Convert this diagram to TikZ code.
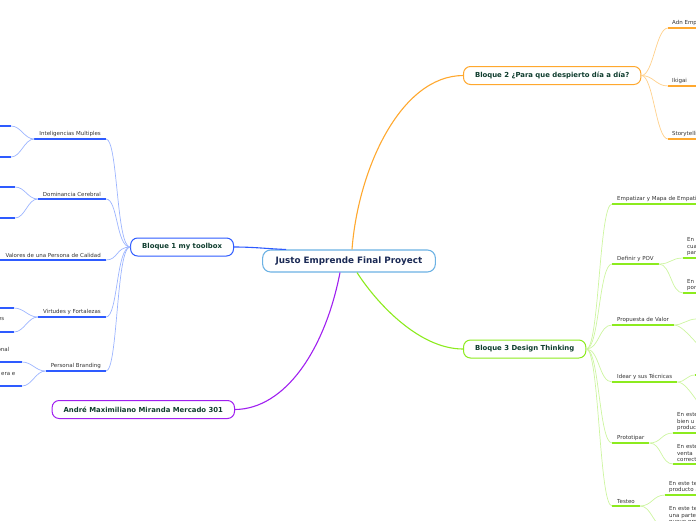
\documentclass[tikz,border=0pt]{standalone}
\usepackage{fontspec}
\setmainfont{DejaVu Sans}
\usetikzlibrary{calc}

\definecolor{ctrline}{HTML}{6CB2E4}
\definecolor{ctrtext}{HTML}{1B2A55}
\definecolor{bloquetext}{HTML}{0F3D2E}
\definecolor{toptext}{HTML}{333333}
\definecolor{blueA}{HTML}{2E5BFF}
\definecolor{blueB}{HTML}{9DB5FF}
\definecolor{orangeA}{HTML}{FFA82E}
\definecolor{orangeB}{HTML}{FFD08A}
\definecolor{greenA}{HTML}{8CEB1E}
\definecolor{greenB}{HTML}{CDF5A0}
\definecolor{purpA}{HTML}{A020F0}

\begin{document}
\begin{tikzpicture}[x=1pt, y=-1pt,
  ctrbox/.style={draw=ctrline, line width=1.1pt, rounded corners=8pt, fill=white, text=ctrtext, font=\fontsize{8.8}{10}\selectfont\bfseries, minimum height=22pt, inner xsep=13pt},
  bloque/.style={draw=#1, line width=1pt, rounded corners=7pt, fill=white, text=bloquetext, font=\fontsize{6.9}{8}\selectfont\bfseries, minimum height=18pt, inner xsep=11.5pt},
  topic/.style={text=toptext, font=\fontsize{5.5}{6.5}\selectfont, inner xsep=5pt, inner ysep=2pt},
  leaf/.style={topic, align=left, text width=40pt, inner xsep=4pt},
  trunk/.style={draw=#1, line width=1.1pt},
  twig/.style={draw=#1, line width=0.7pt},
  uline/.style={draw=#1, line width=1.8pt}
]
\useasboundingbox (0,0) rectangle (696,520);
\clip (0,0) rectangle (696,520);

% centre and the four blocks
\node[ctrbox] (ctr) at (349,261) {Justo Emprende Final Proyect};
\node[bloque=blueA, anchor=east] (b1) at (234,247) {Bloque 1 my toolbox};
\node[bloque=orangeA, anchor=west] (b2) at (463,75.5) {Bloque 2 ¿Para que despierto día a día?};
\node[bloque=greenA, anchor=west] (b3) at (463,349) {Bloque 3 Design Thinking};
\node[bloque=purpA, anchor=east] (am) at (235,409.5) {André Maximiliano Miranda Mercado 301};

\draw[trunk=blueA] (b1.east) .. controls (255,247) and (270,249) .. ($(ctr.north west)+(24,0)$);
\draw[trunk=orangeA] ($(ctr.north)+(3,0)$) .. controls (358,170) and (400,76) .. (b2.west);
\draw[trunk=greenA] ($(ctr.south)+(8,0)$) .. controls (378,305) and (420,349) .. (b3.west);
\draw[trunk=purpA] ($(ctr.south)+(-9,0)$) .. controls (325,350) and (285,409) .. (am.east);

% Bloque 1
\node[topic, anchor=south east] (im) at (106,139) {Inteligencias Multiples};
\node[topic, anchor=south east] (dc) at (106,199) {Dominancia Cerebral};
\node[topic, anchor=south east] (vp) at (106,260) {Valores de una Persona de Calidad};
\node[topic, anchor=south east] (vf) at (106,317) {Virtudes y Fortalezas};
\node[topic, anchor=south east] (pb) at (106,371) {Personal Branding};
\draw[uline=blueA] (im.south west) -- (im.south east);
\draw[uline=blueA] (dc.south west) -- (dc.south east);
\draw[uline=blueA] (vp.south west) -- (vp.south east);
\draw[uline=blueA] (vf.south west) -- (vf.south east);
\draw[uline=blueA] (pb.south west) -- (pb.south east);
\draw[twig=blueB] (b1.west) .. controls +(-14,0) and +(12,0) .. (im.south east);
\draw[twig=blueB] (b1.west) .. controls +(-14,0) and +(12,0) .. (dc.south east);
\draw[twig=blueB] (b1.west) .. controls +(-14,0) and +(12,0) .. (vp.south east);
\draw[twig=blueB] (b1.west) .. controls +(-14,0) and +(12,0) .. (vf.south east);
\draw[twig=blueB] (b1.west) .. controls +(-14,0) and +(12,0) .. (pb.south east);

\coordinate (im1) at (11,126);
\coordinate (im2) at (11,157);
\coordinate (dc1) at (15,187);
\coordinate (dc2) at (15,218);
\coordinate (vf1) at (14,308);
\coordinate (vf2) at (14,332);
\coordinate (pb1) at (22,362);
\coordinate (pb2) at (22,386);
\node[topic, anchor=base east, inner xsep=0pt] (vf2t) at (4.5,320.5) {es};
\node[topic, anchor=base east, inner xsep=0pt] (pb1t) at (9.5,351) {onal};
\node[topic, anchor=base east, inner xsep=0pt] (pb2t) at (15.5,375) {era e};
\foreach \lf in {im1,im2,dc1,dc2,vf1,vf2,pb1,pb2}
  \draw[uline=blueA] (\lf) -- ++(-40,0);
\draw[twig=blueB] (im.south west) .. controls +(-10,0) and +(10,0) .. (im1);
\draw[twig=blueB] (im.south west) .. controls +(-10,0) and +(10,0) .. (im2);
\draw[twig=blueB] (dc.south west) .. controls +(-10,0) and +(10,0) .. (dc1);
\draw[twig=blueB] (dc.south west) .. controls +(-10,0) and +(10,0) .. (dc2);
\draw[twig=blueB] (vf.south west) .. controls +(-10,0) and +(10,0) .. (vf1);
\draw[twig=blueB] (vf.south west) .. controls +(-10,0) and +(10,0) .. (vf2);
\draw[twig=blueB] (pb.south west) .. controls +(-10,0) and +(10,0) .. (pb1);
\draw[twig=blueB] (pb.south west) .. controls +(-10,0) and +(10,0) .. (pb2);

% Bloque 2
\node[topic, anchor=south west, inner xsep=4pt] (ae) at (668,28) {Adn Emp};
\node[topic, anchor=south west, inner xsep=4pt] (ik) at (668,86) {Ikigai};
\node[topic, anchor=south west, inner xsep=4pt] (st) at (668,139) {Storytelli};
\draw[uline=orangeA] (ae.south west) -- ++(40,0);
\draw[uline=orangeA] (ik.south west) -- ++(40,0);
\draw[uline=orangeA] (st.south west) -- ++(40,0);
\draw[twig=orangeB] (b2.east) .. controls +(12,0) and +(-12,0) .. (ae.south west);
\draw[twig=orangeB] (b2.east) .. controls +(12,0) and +(-12,0) .. (ik.south west);
\draw[twig=orangeB] (b2.east) .. controls +(12,0) and +(-12,0) .. (st.south west);

% Bloque 3
\node[topic, anchor=south west] (em) at (612,204) {Empatizar y Mapa de Empati};
\node[topic, anchor=south west] (dp) at (612,264) {Definir y POV};
\node[topic, anchor=south west] (pv) at (612,325) {Propuesta de Valor};
\node[topic, anchor=south west] (it) at (612,382) {Idear y sus Técnicas};
\node[topic, anchor=south west] (pt) at (612,443) {Prototipar};
\node[topic, anchor=south west] (ts) at (612,506) {Testeo};
\draw[uline=greenA] (em.south west) -- ++(100,0);
\draw[uline=greenA] (dp.south west) -- (dp.south east);
\draw[uline=greenA] (pv.south west) -- (pv.south east);
\draw[uline=greenA] (it.south west) -- (it.south east);
\draw[uline=greenA] (pt.south west) -- (pt.south east);
\draw[uline=greenA] (ts.south west) -- (ts.south east);
\draw[twig=greenB] (b3.east) .. controls +(13,0) and +(-13,0) .. (em.south west);
\draw[twig=greenB] (b3.east) .. controls +(13,0) and +(-13,0) .. (dp.south west);
\draw[twig=greenB] (b3.east) .. controls +(13,0) and +(-13,0) .. (pv.south west);
\draw[twig=greenB] (b3.east) .. controls +(13,0) and +(-13,0) .. (it.south west);
\draw[twig=greenB] (b3.east) .. controls +(13,0) and +(-13,0) .. (pt.south west);
\draw[twig=greenB] (b3.east) .. controls +(13,0) and +(-13,0) .. (ts.south west);

\node[leaf, anchor=south west] (dp1) at (683,258) {En\\cua\\par};
\node[leaf, anchor=south west] (dp2) at (683,293) {En\\por};
\node[leaf, anchor=south west] (pt1) at (673,433) {En este\\bien u\\produc};
\node[leaf, anchor=south west] (pt2) at (673,464) {En este\\venta\\correct};
\node[leaf, anchor=south west] (ts1) at (665,495) {En este te\\producto a};
\node[leaf, anchor=south west] (ts2) at (665,527) {En este te\\una parte\\nuevo pro};
\coordinate (pv1) at (696,319);
\coordinate (pv2) at (718,360);
\coordinate (it1) at (695,375);
\coordinate (it2) at (714,416);
\foreach \lf in {dp1,dp2,pt1,pt2,ts1,ts2}
  \draw[uline=greenA] (\lf.south west) -- (\lf.south east);
\foreach \lf in {pv1,pv2,it1,it2}
  \draw[uline=greenA] (\lf) -- ++(40,0);
\draw[twig=greenB] (dp.south east) .. controls +(12,0) and +(-12,0) .. (dp1.south west);
\draw[twig=greenB] (dp.south east) .. controls +(12,0) and +(-12,0) .. (dp2.south west);
\draw[twig=greenB] (pv.south east) .. controls +(8,0) and +(-8,0) .. (pv1);
\draw[twig=greenB] (pv.south east) .. controls +(12,0) and +(-12,0) .. (pv2);
\draw[twig=greenB] (it.south east) .. controls +(8,0) and +(-8,0) .. (it1);
\draw[twig=greenB] (it.south east) .. controls +(12,0) and +(-12,0) .. (it2);
\draw[twig=greenB] (pt.south east) .. controls +(12,0) and +(-12,0) .. (pt1.south west);
\draw[twig=greenB] (pt.south east) .. controls +(12,0) and +(-12,0) .. (pt2.south west);
\draw[twig=greenB] (ts.south east) .. controls +(12,0) and +(-12,0) .. (ts1.south west);
\draw[twig=greenB] (ts.south east) .. controls +(12,0) and +(-12,0) .. (ts2.south west);

\end{tikzpicture}
\end{document}
